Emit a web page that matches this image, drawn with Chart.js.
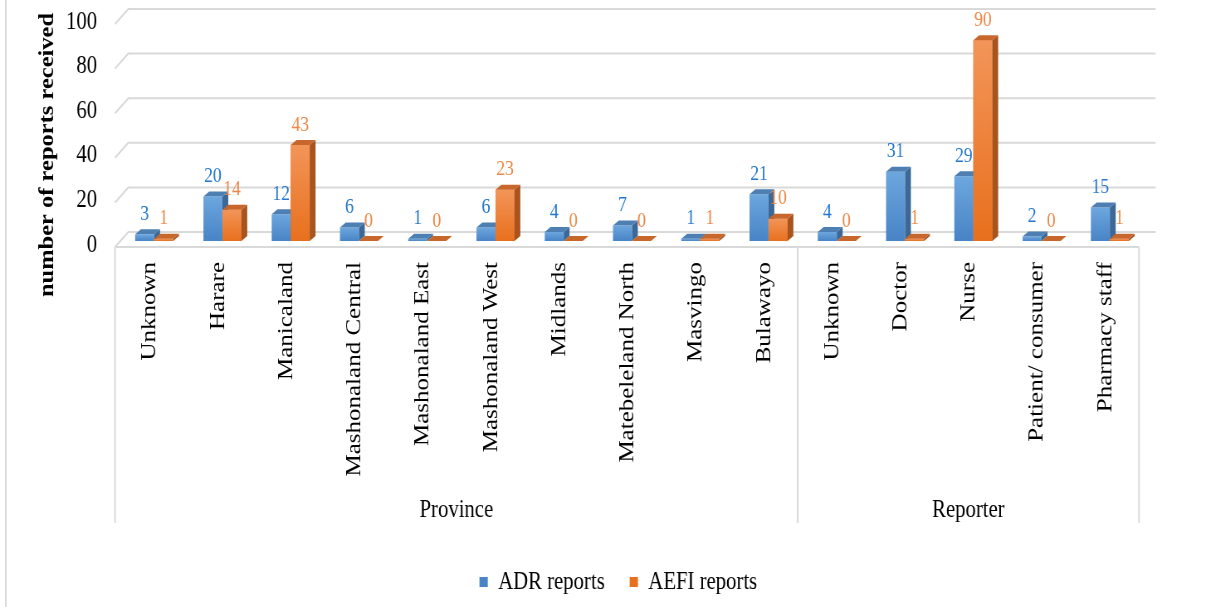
<!DOCTYPE html>
<html>
<head>
<meta charset="utf-8">
<script src="https://cdn.jsdelivr.net/npm/chart.js@4.4.1/dist/chart.umd.min.js"></script>
<style>
  html, body { margin: 0; padding: 0; background: #fff; overflow: hidden; }
  /* the source picture is squeezed sideways, so draw wide and squeeze */
  #wrap { position: relative; width: 1468px; height: 607px; transform: scaleX(0.83); transform-origin: 0 0; }
</style>
</head>
<body>
<div id="wrap"><canvas id="chart"></canvas></div>
<script>
const categories = ['Unknown', 'Harare', 'Manicaland', 'Mashonaland Central', 'Mashonaland East',
  'Mashonaland West', 'Midlands', 'Matebeleland North', 'Masvingo', 'Bulawayo',
  'Unknown', 'Doctor', 'Nurse', 'Patient/ consumer', 'Pharmacy staff'];
const groupNames = ['Province', 'Reporter'];
const groupSizes = [10, 5];
const adrReports = [3, 20, 12, 6, 1, 6, 4, 7, 1, 21, 4, 31, 29, 2, 15];
const aefiReports = [1, 14, 43, 0, 0, 23, 0, 0, 1, 10, 0, 1, 90, 0, 1];
const yMin = 0, yMax = 100, yStep = 20;

const FONT = "'Liberation Serif', 'Times New Roman', serif";
const LINE = '#d9d9d9';
const DX = 7, DY = 5;          // bar depth
const FRONT_X = -6, FRONT_Y = 6, BACK_X = 10, BACK_Y = -9, BACK_R = 14;

const blue = { top: '#6da7df', bottom: '#4884c6', side: '#3b6897', cap: '#4e7fb3', text: '#2477cc', plain: '#5b9bd5' };
const orange = { top: '#f39559', bottom: '#e8701d', side: '#a9531d', cap: '#c7672c', text: '#ef8644', plain: '#ed7d31' };

function frontFill(col) {
  return function(c) {
    if (c.type !== 'data') return col.plain;
    const chart = c.chart, ys = chart.scales.y;
    if (!ys || !chart.chartArea) return col.plain;
    const top = ys.getPixelForValue(c.raw), base = ys.getPixelForValue(0);
    if (base - top < 2) return col.bottom;
    const g = chart.ctx.createLinearGradient(0, top, 0, base);
    g.addColorStop(0, col.top);
    g.addColorStop(1, col.bottom);
    return g;
  };
}

function faces(ctx, bar, col) {
  const p = bar.getProps(['x', 'y', 'base', 'width'], true);
  const l = p.x - p.width / 2, r = p.x + p.width / 2;
  ctx.fillStyle = col.side;
  ctx.beginPath();
  ctx.moveTo(r, p.y); ctx.lineTo(r + DX, p.y - DY); ctx.lineTo(r + DX, p.base - DY); ctx.lineTo(r, p.base);
  ctx.closePath(); ctx.fill();
  ctx.fillStyle = col.cap;
  ctx.beginPath();
  ctx.moveTo(l, p.y); ctx.lineTo(l + DX, p.y - DY); ctx.lineTo(r + DX, p.y - DY); ctx.lineTo(r, p.y);
  ctx.closePath(); ctx.fill();
}

function noPad(s) {
  s.paddingTop = 0; s.paddingBottom = 0; s.paddingLeft = 0; s.paddingRight = 0;
}

const backGrid = {
  id: 'backGrid',
  beforeDatasetsDraw(chart) {
    const { ctx, chartArea: a, scales: { y } } = chart;
    ctx.save();
    ctx.strokeStyle = LINE;
    ctx.lineWidth = 2;
    y.ticks.forEach(t => {
      const py = y.getPixelForValue(t.value);
      ctx.beginPath();
      ctx.moveTo(a.left + FRONT_X, py + FRONT_Y);
      ctx.lineTo(a.left + BACK_X, py + BACK_Y);
      ctx.lineTo(a.right + BACK_R, py + BACK_Y);
      ctx.stroke();
    });

    // category table under the floor
    const base = y.getPixelForValue(0) + FRONT_Y;
    const step = (a.right - a.left) / categories.length;
    const bottom = 523;
    ctx.beginPath();
    ctx.moveTo(a.left + FRONT_X, base);
    ctx.lineTo(a.right + FRONT_X, base);
    ctx.stroke();
    let idx = 0;
    const bounds = [0];
    groupSizes.forEach(n => { idx += n; bounds.push(idx); });
    bounds.forEach(b => {
      const bx = a.left + b * step + FRONT_X;
      ctx.beginPath();
      ctx.moveTo(bx, base);
      ctx.lineTo(bx, bottom);
      ctx.stroke();
    });

    // left edge of the chart frame
    ctx.beginPath();
    ctx.moveTo(7, 0);
    ctx.lineTo(7, 607);
    ctx.stroke();

    ctx.fillStyle = '#000';
    ctx.font = '25px ' + FONT;
    ctx.textAlign = 'center';
    ctx.textBaseline = 'middle';
    groupNames.forEach((name, i) => {
      const cx = a.left + (bounds[i] + bounds[i + 1]) / 2 * step + FRONT_X;
      ctx.fillText(name, cx, 510);
    });

    ctx.translate(58, 155);
    ctx.rotate(-Math.PI / 2);
    ctx.font = 'bold 24.5px ' + FONT;
    ctx.fillText('number of reports received', 0, 0);
    ctx.restore();
  }
};

const boxes = {
  id: 'boxes',
  afterDatasetsDraw(chart) {
    const ctx = chart.ctx;
    const m0 = chart.getDatasetMeta(0), m1 = chart.getDatasetMeta(1);
    ctx.save();
    m0.data.forEach((bar, i) => {
      faces(ctx, bar, blue);
      m1.data[i].draw(ctx);
      faces(ctx, m1.data[i], orange);
    });
    ctx.font = '21px ' + FONT;
    ctx.textAlign = 'center';
    ctx.textBaseline = 'middle';
    [[m0, adrReports, blue], [m1, aefiReports, orange]].forEach(([meta, vals, col]) => {
      ctx.fillStyle = col.text;
      meta.data.forEach((bar, i) => {
        ctx.fillText(String(vals[i]), bar.x, bar.y - 20);
      });
    });
    ctx.restore();
  }
};

new Chart(document.getElementById('chart'), {
  type: 'bar',
  data: {
    labels: categories,
    datasets: [
      { label: 'ADR reports', data: adrReports, backgroundColor: frontFill(blue), borderWidth: 0 },
      { label: 'AEFI reports', data: aefiReports, backgroundColor: frontFill(orange), borderWidth: 0 }
    ]
  },
  options: {
    responsive: true,
    maintainAspectRatio: false,
    animation: false,
    devicePixelRatio: 1,
    datasets: { bar: { categoryPercentage: 0.557, barPercentage: 1 } },
    layout: { padding: { left: 22, right: 0, top: 18, bottom: 2.5 } },
    scales: {
      x: {
        grid: { display: false, drawTicks: false },
        border: { display: false },
        ticks: {
          autoSkip: false, minRotation: 90, maxRotation: 90,
          padding: 21, labelOffset: -5,
          color: '#000', font: { family: FONT, size: 25 }
        },
        afterFit(s) { s.height = 298.5; noPad(s); }
      },
      y: {
        min: yMin, max: yMax,
        grid: { display: false, drawTicks: false },
        border: { display: false },
        ticks: {
          stepSize: yStep, padding: 27.7, labelOffset: 4,
          color: '#000', font: { family: FONT, size: 25 }
        },
        afterFit(s) { s.width = 122.6; noPad(s); }
      },
      // empty space to the right of the plot, kept out of the legend's width
      spacer: {
        position: 'right',
        grid: { display: false, drawTicks: false },
        border: { display: false },
        ticks: { display: false },
        afterFit(s) { s.width = 89.7; noPad(s); }
      }
    },
    plugins: {
      tooltip: { enabled: false },
      legend: {
        position: 'bottom',
        labels: {
          boxWidth: 10, boxHeight: 10, padding: 30,
          color: '#000', font: { family: FONT, size: 25 }
        }
      }
    }
  },
  plugins: [backGrid, boxes]
});
</script>
</body>
</html>
